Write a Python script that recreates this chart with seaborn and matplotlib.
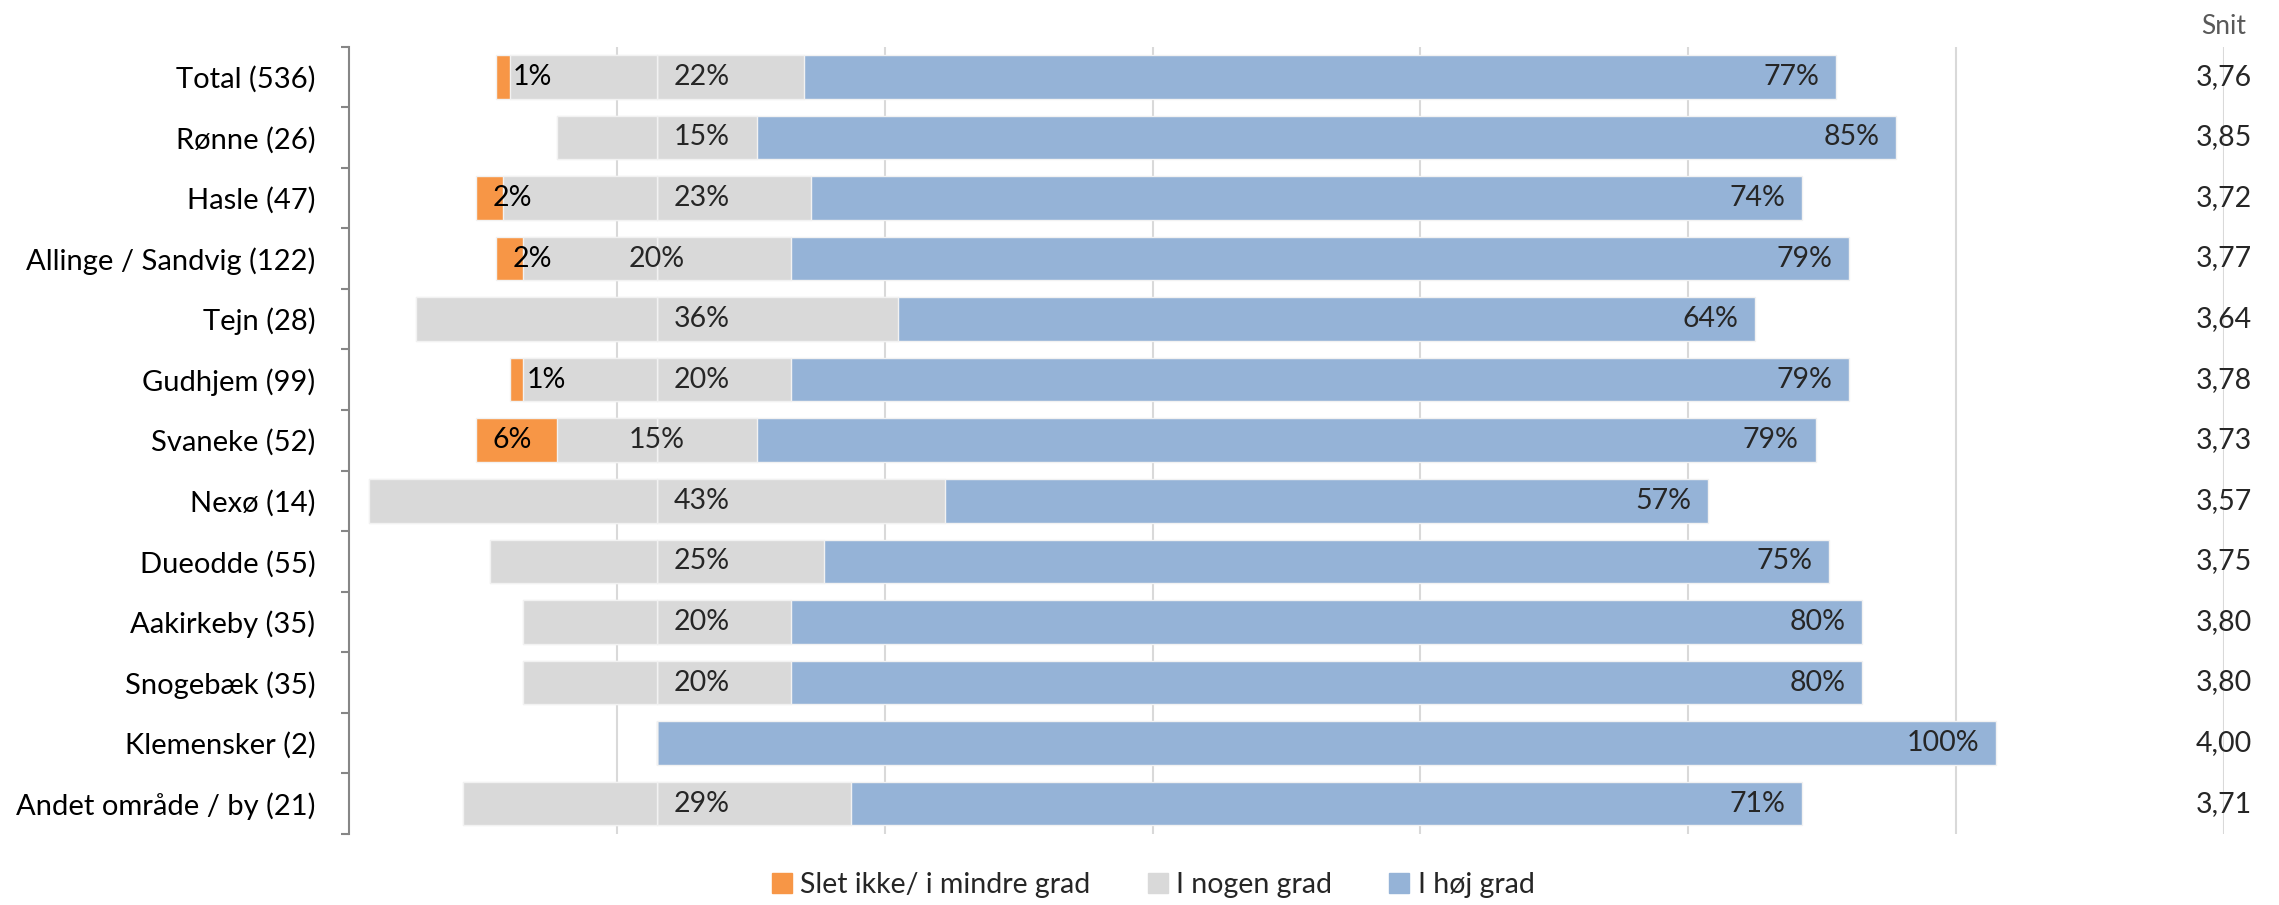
import matplotlib
matplotlib.use("Agg")
import matplotlib.pyplot as plt
import matplotlib.patches as mpatches
import numpy as np
import pandas as pd
import seaborn as sns

# Data
areas = ["Total (536)", "Rønne (26)", "Hasle (47)", "Allinge / Sandvig (122)", "Tejn (28)",
         "Gudhjem (99)", "Svaneke (52)", "Nexø (14)", "Dueodde (55)", "Aakirkeby (35)",
         "Snogebæk (35)", "Klemensker (2)", "Andet område / by (21)"]
slet_ikke = [1, 0, 2, 2, 0, 1, 6, 0, 0, 0, 0, 0, 0]
nogen_grad = [22, 15, 23, 20, 36, 20, 15, 43, 25, 20, 20, 0, 29]
hoej_grad = [77, 85, 74, 79, 64, 79, 79, 57, 75, 80, 80, 100, 71]
snit = [3.76, 3.85, 3.72, 3.77, 3.64, 3.78, 3.73, 3.57, 3.75, 3.80, 3.80, 4.00, 3.71]
series_names = ["Slet ikke/ i mindre grad", "I nogen grad", "I høj grad"]

C_ORANGE = "#F79646"
C_GREY = "#D9D9D9"
C_BLUE = "#95B3D7"

sns.set_theme(style="white")
plt.rcParams["font.family"] = ["Lato", "DejaVu Sans"]

df = pd.DataFrame({"area": areas, "o": slet_ikke, "g": nogen_grad, "b": hoej_grad})
# diverging layout: the neutral category is centred on zero
df["right_blue"] = df["g"] / 2 + df["b"]
df["right_grey"] = df["g"] / 2
df["left_orange"] = -(df["g"] / 2 + df["o"])
df["left_grey"] = -df["g"] / 2

fig, ax = plt.subplots(figsize=(22.79, 9.05), dpi=100)
fig.subplots_adjust(left=0.1531, right=0.9759, top=0.9486, bottom=0.0785)

bar_kw = dict(y="area", order=areas, orient="h", width=0.72, ax=ax,
              edgecolor="#F2F2F2", linewidth=1.0, zorder=2)
sns.barplot(data=df, x="right_blue", color=C_BLUE, saturation=1, **bar_kw)
sns.barplot(data=df, x="right_grey", color=C_GREY, saturation=1, **bar_kw)
sns.barplot(data=df, x="left_orange", color=C_ORANGE, saturation=1, **bar_kw)
sns.barplot(data=df, x="left_grey", color=C_GREY, saturation=1, **bar_kw)

XMIN, XMAX = -23, 117
ax.set_xlim(XMIN, XMAX)
ax.set_ylim(len(areas) - 0.5, -0.5)
for gx in np.arange(XMIN + 20, XMAX + 0.1, 20):
    ax.axvline(gx, color="#D9D9D9", linewidth=1.5, zorder=0)

ax.set_xlabel("")
ax.set_ylabel("")
ax.set_xticks([])
for side in ["top", "right", "bottom"]:
    ax.spines[side].set_visible(False)
ax.spines["left"].set_color("#868686")
ax.spines["left"].set_linewidth(1.5)
ax.tick_params(axis="y", which="major", length=0, pad=24, labelsize=21, labelcolor="black")
ax.set_yticks(np.arange(-0.5, len(areas), 1), minor=True)
ax.tick_params(axis="y", which="minor", left=True, length=6, width=1.5, color="#868686")

# data labels
pad = 1.25
fs = 20.5
for i, row in df.iterrows():
    if row["o"] > 0:
        ax.text(row["left_orange"] + pad, i, f"{row['o']}%", va="center", ha="left",
                fontsize=fs, color="black", zorder=3)
    if row["g"] > 0:
        if row["area"] in ("Allinge / Sandvig (122)", "Svaneke (52)"):
            ax.text(0, i, f"{row['g']}%", va="center", ha="center", fontsize=fs, zorder=3)
        else:
            ax.text(pad, i, f"{row['g']}%", va="center", ha="left", fontsize=fs, zorder=3)
    ax.text(row["right_blue"] - pad, i, f"{row['b']}%", va="center", ha="right",
            fontsize=fs, zorder=3)
    ax.text(XMAX, i, f"{snit[i]:.2f}".replace(".", ","), va="center", ha="center",
            fontsize=fs, clip_on=False, zorder=3)

ax.text(XMAX, -0.62, "Snit", va="bottom", ha="center", fontsize=19, color="#595959",
        clip_on=False)

handles = [mpatches.Patch(color=c, label=n) for c, n in zip([C_ORANGE, C_GREY, C_BLUE], series_names)]
fig.legend(handles=handles, loc="center", bbox_to_anchor=(0.506, 0.022), ncol=3,
           frameon=False, fontsize=20.5, handlelength=0.7, handleheight=0.7,
           handletextpad=0.3, columnspacing=2.0)

fig.savefig("out.png", dpi=100)
